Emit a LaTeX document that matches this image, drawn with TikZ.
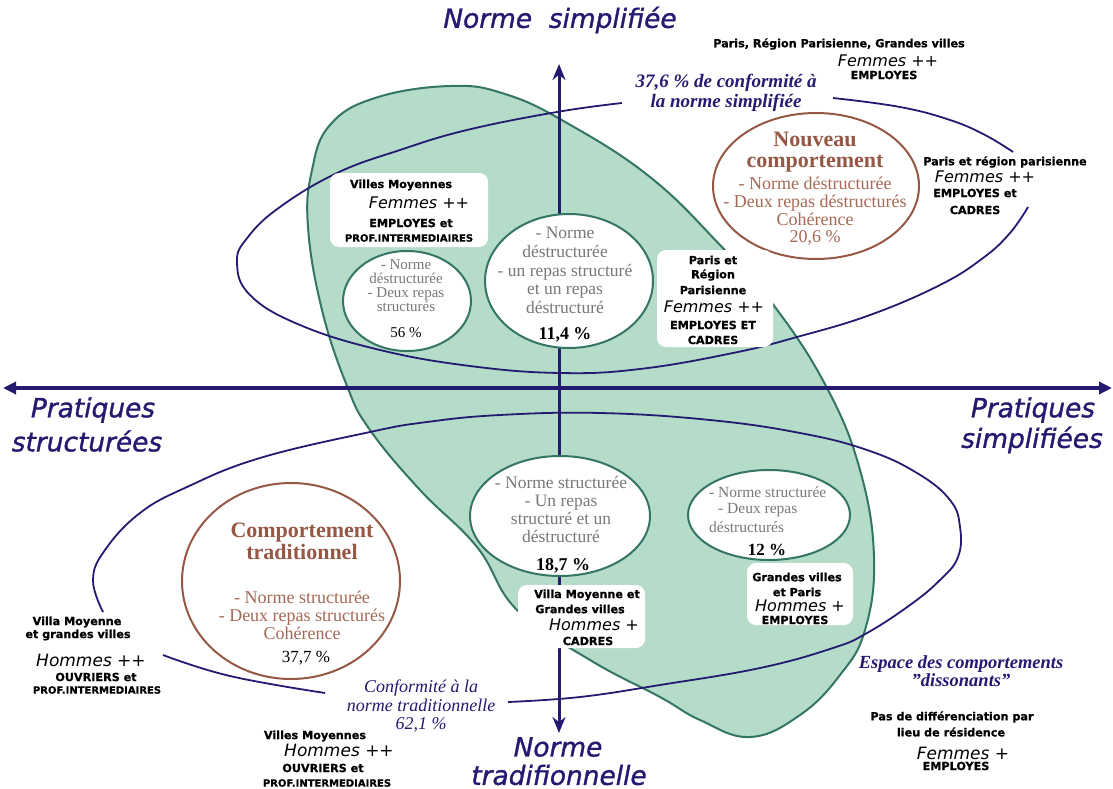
\documentclass[tikz,border=0pt]{standalone}
\usepackage{fontspec}
\setmainfont{Liberation Serif}
\newfontfamily\dvs{DejaVu Sans}[ItalicFont={DejaVu Sans Oblique},BoldFont={DejaVu Sans Bold},BoldItalicFont={DejaVu Sans Bold Oblique}]
\newfontfamily\axf{DejaVu Sans Oblique}[FakeBold=1.2]
\newfontfamily\hvy{DejaVu Sans Bold}[FakeBold=0.8]
\usetikzlibrary{shapes.geometric,arrows.meta}
\definecolor{navy}{RGB}{36,26,112}
\definecolor{greenfill}{RGB}{181,219,201}
\definecolor{tealline}{RGB}{52,117,100}
\definecolor{brownline}{RGB}{150,88,68}
\definecolor{browntext}{RGB}{165,105,85}
\definecolor{greytext}{RGB}{120,120,120}
\newcommand{\myfs}[2]{\fontsize{#1}{#2}\selectfont}
\begin{document}
\begin{tikzpicture}[x=1pt,y=-1pt,
  lab/.style={font=\hvy\myfs{11.2}{13}, inner sep=0, text=black},
  fem/.style={font=\dvs\itshape\myfs{16}{18}, inner sep=0, text=black},
  hom/.style={font=\dvs\itshape\myfs{17}{19}, inner sep=0, text=black},
  axl/.style={font=\axf\myfs{26.4}{30}, text=navy, inner sep=0},
  body/.style={text=greytext, align=center, inner sep=0},
  nserif/.style={font=\bfseries\itshape\myfs{19}{20}, text=navy, align=center, inner sep=0},
  tealell/.style={ellipse, draw=tealline, line width=2, fill=white, inner sep=0},
  brownell/.style={ellipse, draw=brownline, line width=2, fill=white, inner sep=0},
  wbox/.style={fill=white, rounded corners=9, draw=none, inner sep=0},
  navyline/.style={draw=navy, line width=1.8},
  axisline/.style={draw=navy, line width=4}
]
\useasboundingbox (0,0) rectangle (1113,789);

% green zone
\path[fill=greenfill, draw=tealline, line width=2] plot[smooth cycle, tension=0.7] coordinates {(308,227) (312,170) (330,125) (375,98) (450,86) (505,94) (567,123) (650,177) (720,245) (775,307) (827,388) (860,470) (874,557) (865,630) (840,675) (800,715) (750,737) (700,720) (660,697) (590,660) (517,610) (477,547) (420,490) (370,430) (347,386) (322,310)};

% upper navy ellipse
\path[navyline] plot[smooth, tension=0.7] coordinates {(833,98) (900,107) (950,120) (985,135) (1013,152)};
\path[navyline] plot[smooth, tension=0.7] coordinates {(1028,207) (1010,233) (983,258) (940,285) (870,315) (797,337) (733,353) (640,369) (560,373) (470,366) (380,350) (300,325) (250,295) (237,262) (248,237) (280,207) (337,173) (400,150) (467,130) (557,112) (622,103)};

% lower navy ellipse
\path[navyline] plot[smooth, tension=0.7] coordinates {(508,702) (580,697) (660,685) (760,668) (833,648) (867,633) (910,605) (940,580) (958,557) (960,527) (950,500) (917,473) (867,450) (800,433) (710,420) (600,413) (500,415) (427,422) (370,432) (260,458) (187,487) (140,513) (105,550) (93,580) (103,612)};
\path[navyline] plot[smooth, tension=0.7] coordinates {(163,655) (230,676) (325,693)};

% axes
\coordinate (hl) at (3,388);
\coordinate (hr) at (1112,388);
\coordinate (vt) at (559,64);
\coordinate (vb) at (559,733);
\draw[axisline, {Triangle[length=13pt,width=12pt]}-{Triangle[length=13pt,width=12pt]}] (hl) -- (hr);
\draw[navy, line width=3, {Stealth[length=16pt,width=13pt]}-{Stealth[length=16pt,width=13pt]}] (vb) -- (vt);

% ellipses
\node[brownell, minimum width=206, minimum height=146] (enouv) at (816,186) {};
\node[brownell, minimum width=218, minimum height=196] (etrad) at (291,581) {};
\node[tealell, minimum width=128, minimum height=100] (e56) at (407,301) {};
\node[tealell, minimum width=168, minimum height=134] (e114) at (569,281) {};
\node[tealell, minimum width=180, minimum height=120] (e187) at (560,516) {};
\node[tealell, minimum width=162, minimum height=90] (e12) at (769,515) {};

% white boxes
\node[wbox, minimum width=158, minimum height=74] (bvm) at (409,210) {};
\node[wbox, minimum width=116, minimum height=97] (bpr) at (715,298.5) {};
\node[wbox, minimum width=127, minimum height=63] (bvg) at (581.5,616.5) {};
\node[wbox, minimum width=106, minimum height=62] (bgv) at (800,594) {};

% axis labels
\node[axl] (ttl) at (560,20) {Norme~ simplifiée};
\node[axl] (psa) at (93,410) {Pratiques};
\node[axl] (psb) at (87,441) {structurées};
\node[axl] (pda) at (1033,410) {Pratiques};
\node[axl] (pdb) at (1032,440) {simplifiées};
\node[axl] (nta) at (558,747) {Norme};
\node[axl] (ntb) at (559,775) {tradifionnelle};

% ellipse texts
\node[font=\bfseries\myfs{22}{21}, text=brownline, align=center, inner sep=0] (tn1) at (815,152.5) {Nouveau\\comportement};
\node[font=\myfs{18}{17.7}, text=browntext, align=center, inner sep=0] (tn2) at (815,211.5) {- Norme déstructurée\\- Deux repas déstructurés\\Cohérence\\20,6 \%};
\node[font=\bfseries\myfs{22}{22}, text=brownline, align=center, inner sep=0] (tt1) at (302,541) {Comportement\\traditionnel};
\node[font=\myfs{18}{18}, text=browntext, align=center, inner sep=0] (tt2) at (302,615) {- Norme structurée\\- Deux repas structurés\\Cohérence};
\node[font=\myfs{17}{17}, inner sep=0] (tt3) at (306,658) {37,7 \%};

\node[body, font=\myfs{15}{14}] (t56) at (406,286) {- Norme\\déstructurée\\- Deux repas\\structurés};
\node[font=\myfs{15}{15}, inner sep=0] (p56) at (406,333) {56 \%};
\node[body, font=\myfs{17.5}{18.8}] (t114) at (565,270.5) {- Norme\\déstructurée\\- un repas structuré\\et un repas\\déstructuré};
\node[font=\bfseries\myfs{18}{18}, inner sep=0] (p114) at (565,335) {11,4 \%};
\node[body, font=\myfs{17.5}{18.3}] (t187) at (561,509.5) {- Norme structurée\\- Un repas\\structuré et un\\déstructuré};
\node[font=\bfseries\myfs{18}{18}, inner sep=0] (p187) at (563,566) {18,7 \%};
\node[body, anchor=west, font=\myfs{15.5}{17}] (t12a) at (709,492) {- Norme structurée};
\node[body, anchor=west, font=\myfs{15.5}{17}] (t12b) at (718,510) {- Deux repas};
\node[body, anchor=west, font=\myfs{15.5}{17}] (t12c) at (709,527) {déstructurés};
\node[font=\bfseries\myfs{17}{17}, inner sep=0] (p12) at (767,550) {12 \%};

% navy serif texts
\node[nserif] (c376) at (726,93) {37,6 \% de conformité à\\la norme simplifiée};
\node[nserif, font=\bfseries\itshape\myfs{18.5}{18}] (esp) at (961,671) {Espace des comportements\\''dissonants''};
\node[font=\itshape\myfs{18}{18.5}, text=navy, align=center, inner sep=0] (conf) at (421,706.5) {Conformité à la\\norme traditionnelle\\62,1 \%};

% black labels
\node[lab] (a1) at (839,44) {Paris, Région Parisienne, Grandes villes};
\node[fem] (a2) at (888,61) {Femmes ++};
\node[lab] (a3) at (884,75) {EMPLOYES};

\node[lab] (r1) at (1005,162) {Paris et région parisienne};
\node[fem] (r2) at (985,177) {Femmes ++};
\node[lab] (r3) at (975,193) {EMPLOYES et};
\node[lab] (r4) at (975,210) {CADRES};

\node[lab] (v1) at (401,185) {Villes Moyennes};
\node[fem] (v2) at (419,203) {Femmes ++};
\node[lab] (v3) at (411,223) {EMPLOYES et};
\node[lab, font=\hvy\myfs{10}{12}] (v4) at (409,238) {PROF.INTERMEDIAIRES};

\node[lab] (p1) at (713,260) {Paris et};
\node[lab] (p2) at (713,275) {Région};
\node[lab] (p3) at (713,290) {Parisienne};
\node[fem] (p4) at (714,307) {Femmes ++};
\node[lab] (p5) at (713,325) {EMPLOYES ET};
\node[lab] (p6) at (713,340) {CADRES};

\node[lab] (g1) at (587,595) {Villa Moyenne et};
\node[lab] (g2) at (580,609) {Grandes villes};
\node[fem] (g3) at (594,625) {Hommes +};
\node[lab] (g4) at (588,641) {CADRES};

\node[lab] (h1) at (797,577) {Grandes villes};
\node[lab] (h2) at (797,592) {et Paris};
\node[fem] (h3) at (800,606) {Hommes +};
\node[lab] (h4) at (795,620) {EMPLOYES};

\node[lab] (l1) at (77,622) {Villa Moyenne};
\node[lab] (l2) at (78,635) {et grandes villes};
\node[hom] (l3) at (91,660) {Hommes ++};
\node[lab] (l4) at (96,677) {OUVRIERS et};
\node[lab, font=\hvy\myfs{10}{12}] (l5) at (97,690) {PROF.INTERMEDIAIRES};

\node[lab] (m1) at (315,736) {Villes Moyennes};
\node[hom] (m2) at (339,750) {Hommes ++};
\node[lab] (m3) at (323,768) {OUVRIERS et};
\node[lab, font=\hvy\myfs{10}{12}] (m4) at (327,783) {PROF.INTERMEDIAIRES};

\node[lab] (d1) at (952,717) {Pas de différenciation par};
\node[lab] (d2) at (951,732) {lieu de résidence};
\node[hom] (d3) at (963,753) {Femmes +};
\node[lab] (d4) at (956,766) {EMPLOYES};
\end{tikzpicture}
\end{document}
